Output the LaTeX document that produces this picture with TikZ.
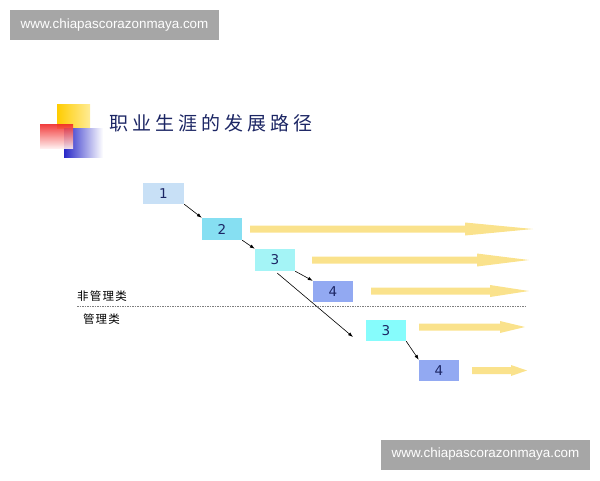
\documentclass[tikz,border=0pt]{standalone}
\usepackage{fontspec}
\setmainfont{DejaVu Sans}
\newfontfamily\cjk{Noto Sans CJK SC}
\newfontfamily\wmfont{Liberation Sans}
\usetikzlibrary{arrows.meta}

\definecolor{navy}{HTML}{1C2664}
\definecolor{wmgray}{HTML}{A6A6A6}
\definecolor{barcolor}{HTML}{FAE28C}
\definecolor{stepA}{HTML}{C8E0F6}
\definecolor{stepB}{HTML}{86DFF2}
\definecolor{stepC}{HTML}{A4F4F6}
\definecolor{stepD}{HTML}{92A9F2}
\definecolor{stepE}{HTML}{86FCFC}

% caracteres com largura fixa
\newcommand{\zi}[1]{\makebox[23pt]{#1}}
\newcommand{\zx}[1]{\makebox[12.7pt]{#1}}
% seta larga amarela: inicio, base da ponta, ponta, altura, meia largura da ponta
\newcommand{\fatarrow}[5]{\fill[bar] (#1,#4-3.5) -- (#2,#4-3.5) -- (#2,#4-#5) -- (#3,#4)
  -- (#2,#4+#5) -- (#2,#4+3.5) -- (#1,#4+3.5) -- cycle;}

\begin{document}
\begin{tikzpicture}[x=1pt, y=-1pt, >={Latex[length=5pt,width=3.5pt]}]

    % estilos
    \tikzstyle{stepbox}=[rectangle, minimum width=40pt, minimum height=21pt, inner sep=0pt,
        text=navy, font=\fontsize{13.5}{13.5}\selectfont]
    \tikzstyle{link}=[->, line width=0.6pt, black]
    \tikzstyle{bar}=[fill=barcolor]
    \tikzstyle{wmark}=[fill=wmgray, text=white, minimum width=209pt, minimum height=30pt,
        inner sep=0pt, font=\wmfont\fontsize{13.4}{13.4}\selectfont]
    \tikzstyle{cjklabel}=[text=black, inner sep=0pt, font=\cjk\fontsize{11.5}{11.5}\selectfont]

    \useasboundingbox (0,0) rectangle (600,480);

    % marcas d'agua
    \node[wmark] (wmtop) at (114.5,25) {www.chiapascorazonmaya.com};
    \node[wmark] (wmbot) at (485.5,454.5) {www.chiapascorazonmaya.com};

    % logotipo
    \shade[left color={rgb,255:red,255;green,204;blue,0}, right color={rgb,255:red,255;green,236;blue,150}]
        (57,104) rectangle (90,128);
    \shade[left color={rgb,255:red,40;green,40;blue,200}, right color=white]
        (64,128) rectangle (103,157);
    \shade[shading angle=45, top color={rgb,255:red,240;green,40;blue,40}, bottom color={rgb,255:red,255;green,235;blue,235}, fill opacity=0.9]
        (40,124) rectangle (73,148);

    % titulo
    \node[text=navy, inner sep=0pt, font=\cjk\fontsize{19}{19}\selectfont] (title) at (211,123)
        {\zi{职}\zi{业}\zi{生}\zi{涯}\zi{的}\zi{发}\zi{展}\zi{路}\zi{径}};

    % etapas
    \node[stepbox, fill=stepA, minimum width=41pt] (s1) at (163.5,193.5) {1};
    \node[stepbox, fill=stepB, minimum height=22pt] (s2) at (222,229) {2};
    \node[stepbox, fill=stepC, minimum height=22pt] (s3) at (275,260) {3};
    \node[stepbox, fill=stepD] (s4) at (333,291.5) {4};
    \node[stepbox, fill=stepE] (m3) at (386,330.5) {3};
    \node[stepbox, fill=stepD] (m4) at (439,370.5) {4};
    \coordinate (m3end) at (353,337);

    % ligacoes
    \draw[link] (s1.south east) -- (s2.north west);
    \draw[link] (s2.south east) -- (s3.north west);
    \draw[link] (s3.south east) -- (s4.north west);
    \draw[link, shorten <=3pt] (s3.south) -- (m3end);
    \draw[link] (m3.south east) -- (m4.north west);

    % setas amarelas
    \fatarrow{250}{465}{533}{229}{6.5}
    \fatarrow{312}{477}{529}{260}{6.5}
    \fatarrow{371}{490}{529}{291}{6}
    \fatarrow{419}{500}{525}{327}{6}
    \fatarrow{472}{511}{527}{370.5}{5.5}

    % separacao
    \draw[gray, line width=0.6pt, dash pattern=on 1.5pt off 1pt] (77,306) -- (527,306);
    \node[cjklabel] (nonmgr) at (102,296) {\zx{非}\zx{管}\zx{理}\zx{类}};
    \node[cjklabel] (mgr) at (101.5,319) {\zx{管}\zx{理}\zx{类}};

\end{tikzpicture}
\end{document}
